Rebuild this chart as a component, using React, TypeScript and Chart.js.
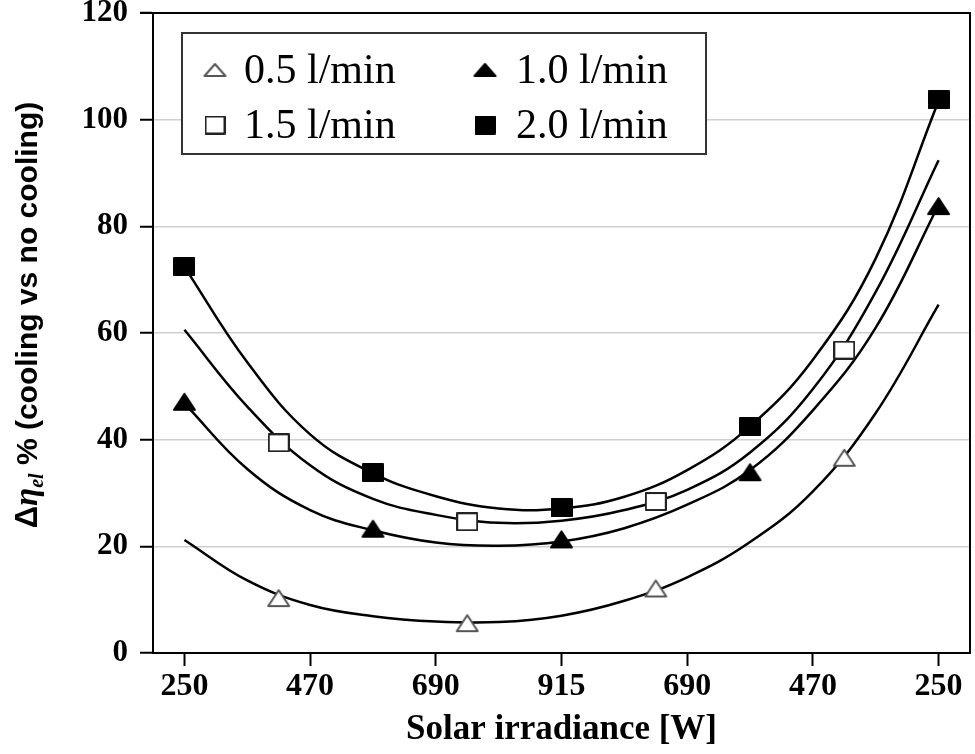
import React, { useEffect, useRef } from 'react';
import { Chart, registerables } from 'chart.js';

Chart.register(...registerables);

// ---- tick labels / categories ----
const xTickLabels = ['250', '470', '690', '915', '690', '470', '250'];
const seriesLabels = ['0.5 l/min', '1.0 l/min', '1.5 l/min', '2.0 l/min'];

// ---- measured points (x = position along the irradiance sweep) ----
const x05 = [0.75, 2.25, 3.75, 5.25];
const y05 = [10.3, 5.6, 12.1, 36.6];
const x10 = [0, 1.5, 3, 4.5, 6];
const y10 = [47.1, 23.3, 21.3, 33.9, 83.8];
const x15 = [0.75, 2.25, 3.75, 5.25];
const y15 = [39.4, 24.6, 28.4, 56.8];
const x20 = [0, 1.5, 3, 4.5, 6];
const y20 = [72.4, 33.8, 27.2, 42.4, 103.7];

// ---- trend curves ----
const curveX = [0, 0.5, 1, 1.5, 2, 2.5, 3, 3.5, 4, 4.5, 5, 5.5, 6];
const curve05 = [21.2, 13.6, 9.0, 6.9, 5.9, 5.8, 7.0, 9.8, 14.2, 20.8, 30.3, 45.0, 65.3];
const curve10 = [46.8, 34.5, 26.8, 23.0, 20.7, 20.1, 20.9, 23.4, 27.8, 34.3, 45.5, 61.0, 84.0];
const curve15 = [60.6, 46.2, 35.2, 28.9, 25.9, 24.4, 24.8, 26.8, 30.6, 37.6, 49.5, 67.7, 92.4];
const curve20 = [72.4, 54.5, 41.0, 33.7, 29.4, 27.1, 27.1, 29.3, 34.3, 42.5, 55.0, 74.0, 103.5];

const SERIF = '"Liberation Serif", "Times New Roman", serif';
const SANS = '"Liberation Sans", Arial, sans-serif';

function makeMarker(shape: 'triangle' | 'square', filled: boolean, w: number, h: number) {
  const c = document.createElement('canvas');
  c.width = w;
  c.height = h;
  const ctx = c.getContext('2d') as CanvasRenderingContext2D;
  const lw = 2;
  ctx.lineWidth = lw;
  ctx.lineJoin = 'round';
  ctx.fillStyle = filled ? '#000' : '#fff';
  ctx.strokeStyle = filled ? '#000' : shape === 'triangle' ? '#555' : '#222';
  ctx.beginPath();
  if (shape === 'triangle') {
    ctx.moveTo(w / 2, lw);
    ctx.lineTo(w - lw, h - lw);
    ctx.lineTo(lw, h - lw);
    ctx.closePath();
  } else {
    ctx.rect(lw / 2, lw / 2, w - lw, h - lw);
  }
  ctx.fill();
  ctx.stroke();
  return c;
}

const pts = (xs: number[], ys: number[]) => xs.map((x, i) => ({ x, y: ys[i] }));

export default function App() {
  const ref = useRef<HTMLCanvasElement>(null);

  useEffect(() => {
    const canvas = ref.current as HTMLCanvasElement;

    const plotMarkers = [
      makeMarker('triangle', false, 25, 20),
      makeMarker('triangle', true, 25, 20),
      makeMarker('square', false, 22, 19),
      makeMarker('square', true, 22, 19),
    ];
    const legendMarkers = [
      makeMarker('triangle', false, 25, 16),
      makeMarker('triangle', true, 25, 16),
      makeMarker('square', false, 21, 19),
      makeMarker('square', true, 21, 19),
    ];

    const markerSets = [
      [x05, y05],
      [x10, y10],
      [x15, y15],
      [x20, y20],
    ];
    const curves = [curve05, curve10, curve15, curve20];

    const datasets: any[] = [];
    markerSets.forEach(([xs, ys], i) => {
      datasets.push({
        label: seriesLabels[i],
        data: pts(xs, ys),
        showLine: false,
        pointStyle: plotMarkers[i],
        pointRadius: 10,
        order: 0,
        isMarker: true,
        legendIndex: i,
      });
    });
    curves.forEach((c) => {
      datasets.push({
        label: '',
        data: pts(curveX, c),
        borderColor: '#000',
        borderWidth: 2.5,
        pointRadius: 0,
        tension: 0.4,
        fill: false,
        order: 1,
      });
    });

    const framePlugin = {
      id: 'frame',
      beforeDatasetsDraw(chart: any) {
        const { ctx, chartArea } = chart;
        ctx.save();
        ctx.strokeStyle = '#000';
        ctx.lineWidth = 2;
        ctx.beginPath();
        ctx.moveTo(chartArea.left - 13, chartArea.top);
        ctx.lineTo(chartArea.right, chartArea.top);
        ctx.lineTo(chartArea.right, chartArea.bottom);
        ctx.stroke();
        ctx.restore();
      },
    };

    const legendPlugin = {
      id: 'boxLegend',
      afterDatasetsDraw(chart: any) {
        const { ctx } = chart;
        const box = { left: 182, top: 33, right: 706, bottom: 154 };
        ctx.save();
        ctx.fillStyle = '#fff';
        ctx.fillRect(box.left, box.top, box.right - box.left, box.bottom - box.top);
        ctx.strokeStyle = '#333';
        ctx.lineWidth = 2;
        ctx.strokeRect(box.left, box.top, box.right - box.left, box.bottom - box.top);
        const colMarkerX = [215, 485];
        const colTextX = [244, 516];
        const rowY = [70, 125];
        ctx.font = `42px ${SERIF}`;
        ctx.fillStyle = '#000';
        ctx.textBaseline = 'middle';
        ctx.textAlign = 'left';
        chart.data.datasets
          .filter((d: any) => d.isMarker)
          .forEach((d: any) => {
            const i = d.legendIndex;
            const col = i % 2;
            const row = Math.floor(i / 2);
            const img = legendMarkers[i];
            ctx.drawImage(img, colMarkerX[col] - img.width / 2, rowY[row] - img.height / 2);
            ctx.fillText(d.label, colTextX[col], rowY[row] + 2);
          });
        ctx.restore();
      },
    };

    const yTitlePlugin = {
      id: 'yTitle',
      afterDraw(chart: any) {
        const { ctx } = chart;
        const parts = [
          { t: 'Δ', font: `bold 31px ${SANS}`, dy: 0 },
          { t: 'η', font: `italic bold 33px ${SERIF}`, dy: 0 },
          { t: 'el', font: `italic bold 20px ${SERIF}`, dy: 6 },
          { t: ' % (cooling vs no cooling)', font: `bold 30px ${SANS}`, dy: 0 },
        ];
        ctx.save();
        let total = 0;
        const widths = parts.map((p) => {
          ctx.font = p.font;
          const w = ctx.measureText(p.t).width;
          total += w;
          return w;
        });
        ctx.translate(37, 315);
        ctx.rotate(-Math.PI / 2);
        ctx.fillStyle = '#000';
        ctx.textBaseline = 'alphabetic';
        ctx.textAlign = 'left';
        let x = -total / 2;
        parts.forEach((p, i) => {
          ctx.font = p.font;
          ctx.fillText(p.t, x, p.dy);
          x += widths[i];
        });
        ctx.restore();
      },
    };

    const chart = new Chart(canvas, {
      type: 'line',
      data: { datasets },
      options: {
        animation: false,
        responsive: true,
        maintainAspectRatio: false,
        events: [],
        layout: { autoPadding: false, padding: { top: 13, right: 5, left: 0, bottom: 0 } },
        plugins: {
          legend: { display: false },
          tooltip: { enabled: false },
        },
        scales: {
          x: {
            type: 'linear',
            min: -0.25,
            max: 6.25,
            afterBuildTicks: (s: any) => {
              s.ticks = xTickLabels.map((_, i) => ({ value: i }));
            },
            afterFit: (s: any) => {
              s.height = 101;
              s.paddingLeft = 0;
              s.paddingRight = 0;
            },
            ticks: {
              autoSkip: false,
              maxRotation: 0,
              padding: 2,
              color: '#000',
              font: { family: SERIF, size: 32, weight: 'bold' },
              callback: (v: any) => xTickLabels[Math.round(Number(v))] ?? '',
            },
            grid: { drawOnChartArea: false, tickLength: 13, tickColor: '#000', tickWidth: 2 },
            border: { color: '#000', width: 2 },
            title: {
              display: true,
              text: 'Solar irradiance [W]',
              color: '#000',
              font: { family: SERIF, size: 35, weight: 'bold' },
              padding: { top: 0, bottom: 3 },
            },
          },
          y: {
            min: 0,
            max: 120,
            afterFit: (s: any) => {
              s.width = 153;
              s.paddingTop = 0;
              s.paddingBottom = 0;
            },
            ticks: {
              stepSize: 20,
              padding: 12,
              color: '#000',
              font: { family: SERIF, size: 31, weight: 'bold' },
            },
            grid: { color: '#cfcfcf', lineWidth: 1.5, tickLength: 13, tickColor: '#000', tickWidth: 2 },
            border: { color: '#000', width: 2 },
          },
        },
      } as any,
      plugins: [framePlugin, legendPlugin, yTitlePlugin],
    });

    return () => chart.destroy();
  }, []);

  return (
    <div style={{ position: 'fixed', left: 0, top: 0, width: 975, height: 754, background: '#fff' }}>
      <canvas ref={ref} />
    </div>
  );
}
